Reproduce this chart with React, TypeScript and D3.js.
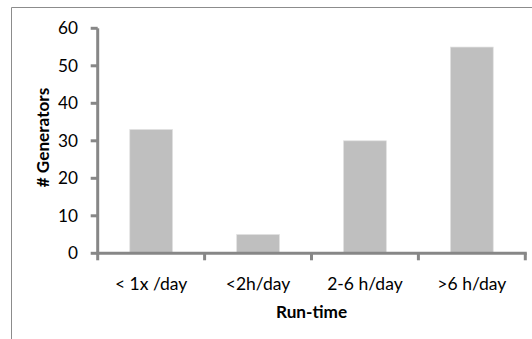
import React from "react";
import * as d3 from "d3";

const categories = ["< 1x /day", "<2h/day", "2-6 h/day", ">6 h/day"];
const values = [33, 5, 30, 55];
const yTicks = [0, 10, 20, 30, 40, 50, 60];
const xTitle = "Run-time";
const yTitle = "# Generators";

export default function App() {
  const W = 532, H = 339;
  const left = 97.7, right = 525.3, top = 28.3, bottom = 253.3;
  const x = d3.scaleBand<string>().domain(categories).range([left, right]).paddingInner(0.6).paddingOuter(0.3);
  const xb = d3.scaleBand<string>().domain(categories).range([left, right]);
  const y = d3.scaleLinear().domain([0, 60]).range([bottom, top]);
  const font = "Lato, Open Sans, sans-serif";
  const axisColor = "#878787";
  return (
    <svg width={W} height={H} style={{ position: "absolute", left: 0, top: 0, display: "block" }}>
      <rect x={0} y={0} width={W} height={H} fill="#fff" />
      <path d={`M11.5,${H} V7.5 H${W}`} fill="none" stroke="#8c8c8c" strokeWidth={1} />
      {categories.map((c, i) => (
        <rect key={c} x={x(c)!} y={y(values[i])} width={x.bandwidth()} height={bottom - y(values[i])}
          fill="#bfbfbf" stroke="#e0e0e0" strokeWidth={0.7} />
      ))}
      <line x1={left} x2={left} y1={top} y2={bottom + 1.5} stroke={axisColor} strokeWidth={3} />
      {yTicks.map(t => (
        <g key={t}>
          <line x1={left - 7} x2={left} y1={y(t)} y2={y(t)} stroke={axisColor} strokeWidth={3} />
          <text x={78} y={y(t)} dy="0.36em" textAnchor="end" fontFamily={font} fontSize={17.2} fill="#000">{t}</text>
        </g>
      ))}
      <line x1={left - 1.5} x2={right + 1.5} y1={bottom} y2={bottom} stroke={axisColor} strokeWidth={3} />
      {[...categories.map(c => xb(c)!), right].map((px, i) => (
        <line key={i} x1={px} x2={px} y1={bottom} y2={bottom + 7} stroke={axisColor} strokeWidth={3} />
      ))}
      {categories.map(c => (
        <text key={c} x={xb(c)! + xb.bandwidth() / 2} y={290} textAnchor="middle" fontFamily={font} fontSize={17.5} fill="#000">{c}</text>
      ))}
      <text x={(left + right) / 2} y={318.3} textAnchor="middle" fontFamily={font} fontSize={17.2} fontWeight="bold" fill="#000">{xTitle}</text>
      <text transform={`translate(48.5,137.5) rotate(-90)`} textAnchor="middle" fontFamily={font} fontSize={17.2} fontWeight="bold" fill="#000">{yTitle}</text>
    </svg>
  );
}
